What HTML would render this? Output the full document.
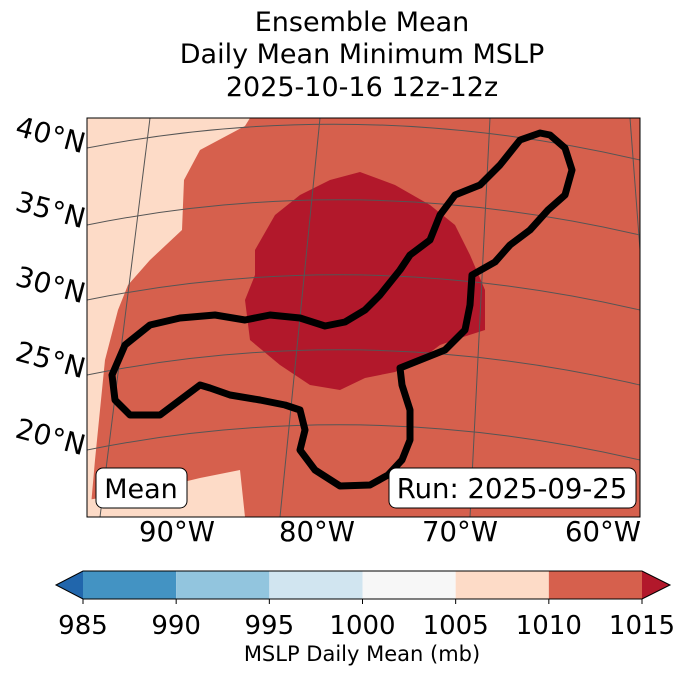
<!DOCTYPE html>
<html><head><meta charset="utf-8"><style>
body{margin:0;background:#fff;width:688px;height:674px;overflow:hidden;font-family:"DejaVu Sans","Liberation Sans",sans-serif}
svg text{font-family:"DejaVu Sans","Liberation Sans",sans-serif}
</style></head><body>
<svg width="688" height="674" viewBox="0 0 688 674">
<g font-size="27" text-anchor="middle" fill="#000">
<text x="362" y="31">Ensemble Mean</text>
<text x="362" y="63">Daily Mean Minimum MSLP</text>
<text x="362" y="96">2025-10-16 12z-12z</text>
</g>
<defs><clipPath id="mc"><rect x="87" y="118" width="553" height="399"/></clipPath></defs>
<g clip-path="url(#mc)">
<rect x="87" y="118" width="553" height="399" fill="#d6604d"/>
<polygon fill="#fddbc7" points="87,118 250,118 245,126 200,150 184,180 182,230 150,260 128,285 118,310 105,360 100,410 95,460 90,517 87,517"/>
<polygon fill="#fddbc7" points="87,500 150,490 200,478 240,470 245,517 87,517"/>
<polygon fill="#b2182b" points="255,250 275,215 300,195 330,180 360,172 395,185 430,205 455,225 470,255 485,290 485,330 460,338 440,345 420,360 395,372 365,378 340,390 310,385 280,365 250,340 245,300 255,275"/>
<g stroke="#555" stroke-width="1" fill="none">
<path d="M87,148 Q360,95 640,160"/>
<path d="M87,225 Q360,170 640,235"/>
<path d="M87,300 Q360,245 640,310"/>
<path d="M87,375 Q360,320 640,385"/>
<path d="M87,450 Q360,395 640,460"/>
<path d="M150,118 L100,517"/>
<path d="M320,118 L280,517"/>
<path d="M490,118 L470,517"/>
<path d="M630,118 L640,250"/>
</g>
<path fill="none" stroke="#000" stroke-width="7" stroke-linejoin="round" d="M540,133 L520,140 L500,165 L480,185 L455,195 L440,215 L430,240 L410,255 L400,270 L380,295 L365,310 L345,322 L325,326 L300,318 L270,315 L245,320 L215,315 L180,318 L150,325 L125,345 L112,375 L115,400 L130,415 L160,415 L180,400 L200,385 L210,388 L230,395 L260,400 L285,405 L300,410 L305,430 L300,450 L315,470 L340,486 L370,485 L388,475 L402,460 L410,440 L410,410 L402,385 L400,368 L420,360 L445,350 L465,330 L470,305 L472,275 L495,262 L510,245 L530,230 L548,210 L565,195 L572,170 L565,148 L550,135 Z"/>
</g>
<rect x="87" y="118" width="553" height="399" fill="none" stroke="#000" stroke-width="1"/>
<g font-size="28" fill="#000">
<text transform="translate(14,135) rotate(15)">40°N</text>
<text transform="translate(14,210) rotate(15)">35°N</text>
<text transform="translate(14,285) rotate(15)">30°N</text>
<text transform="translate(14,360) rotate(15)">25°N</text>
<text transform="translate(14,437) rotate(15)">20°N</text>
</g>
<g font-size="27.5" fill="#000" text-anchor="middle">
<text x="177" y="541">90°W</text><text x="317" y="541">80°W</text>
<text x="460" y="541">70°W</text><text x="603" y="541">60°W</text>
</g>
<g>
<rect x="96" y="468" width="91" height="40" rx="7" fill="#fff" stroke="#000"/>
<text x="141" y="498" font-size="27" text-anchor="middle">Mean</text></g>
<g>
<rect x="389" y="468" width="247" height="40" rx="7" fill="#fff" stroke="#000"/>
<text x="512" y="498" font-size="27.5" text-anchor="middle">Run: 2025-09-25</text></g>
<g id="cbar"></g>
<text x="362" y="661" font-size="21" text-anchor="middle">MSLP Daily Mean (mb)</text>
</svg>
<script>
const levels=[985,990,995,1000,1005,1010,1015];
const colors=["#4393c3","#92c5de","#d1e5f0","#f7f7f7","#fddbc7","#d6604d"];
const extColors=["#2166ac","#b2182b"];
const g=document.getElementById('cbar');const ns="http://www.w3.org/2000/svg";
const x0=83,x1=642,y0=571,y1=599;
const sx=v=>x0+(v-levels[0])/(levels[levels.length-1]-levels[0])*(x1-x0);
for(let i=0;i<colors.length;i++){const r=document.createElementNS(ns,'rect');
r.setAttribute('x',sx(levels[i]));r.setAttribute('y',y0);r.setAttribute('width',sx(levels[i+1])-sx(levels[i]));r.setAttribute('height',y1-y0);r.setAttribute('fill',colors[i]);


g.appendChild(r);}
const pl=document.createElementNS(ns,'polygon');pl.setAttribute('points',`${x0},${y0} 56,${(y0+y1)/2} ${x0},${y1}`);pl.setAttribute('fill',extColors[0]);


g.appendChild(pl);
const pr=document.createElementNS(ns,'polygon');pr.setAttribute('points',`${x1},${y0} 670,${(y0+y1)/2} ${x1},${y1}`);pr.setAttribute('fill',extColors[1]);


g.appendChild(pr);
const ol=document.createElementNS(ns,'polygon');ol.setAttribute('points',`56,${(y0+y1)/2} ${x0},${y0} ${x1},${y0} 670,${(y0+y1)/2} ${x1},${y1} ${x0},${y1}`);ol.setAttribute('fill','none');ol.setAttribute('stroke','#000');


g.appendChild(ol);
levels.forEach(v=>{const t=document.createElementNS(ns,'text');t.setAttribute('x',sx(v));t.setAttribute('y',634);t.setAttribute('font-size','26');t.setAttribute('text-anchor','middle');t.textContent=v;


g.appendChild(t);
const l=document.createElementNS(ns,'line');l.setAttribute('x1',sx(v));l.setAttribute('x2',sx(v));l.setAttribute('y1',y1);l.setAttribute('y2',y1+5);l.setAttribute('stroke','#000');


g.appendChild(l);});
</script>
</body></html>
